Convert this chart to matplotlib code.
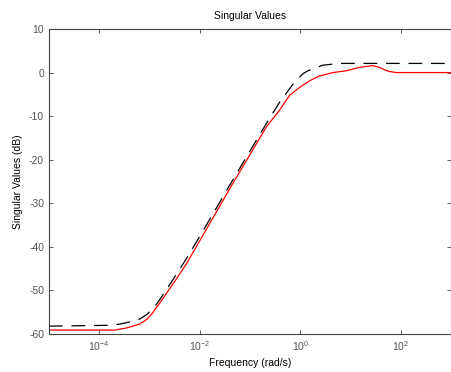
import numpy as np
import matplotlib.pyplot as plt

plt.rcParams['font.family'] = ['Liberation Sans', 'DejaVu Sans']
plt.rcParams['axes.unicode_minus'] = False

# Valores (log10 de la frecuencia, dB)
logf_rojo = [-5, -3.7, -3.45, -3.19, -3.05, -2.955, -2.79, -2.49, -2.26, -2.0, -1.34,
             -0.67, -0.41, -0.21, 0.0, 0.2, 0.38, 0.65, 0.91, 1.18, 1.44, 1.57,
             1.75, 1.91, 3]
db_rojo = [-59.1, -59.1, -58.6, -57.7, -56.6, -55.4, -52.8, -47.8, -43.8, -38.6, -25.4,
           -12.4, -8.6, -5.2, -3.3, -1.8, -0.8, 0.0, 0.4, 1.2, 1.6, 1.2,
           0.3, 0.0, 0.0]

logf_negro = [-5, -3.78, -3.58, -3.42, -3.2, -3.05, -2.9, -2.79, -2.56, -2.26, -2.0,
              -1.34, -0.67, -0.41, -0.16, 0.05, 0.15, 0.45, 0.78, 3]
db_negro = [-58.2, -58.0, -57.7, -57.3, -56.6, -55.5, -53.8, -52.0, -48.0, -42.6, -37.6,
            -24.6, -11.6, -6.8, -2.9, -0.3, 0.4, 1.7, 2.1, 2.1]

x_ticks = [1e-4, 1e-2, 1e0, 1e2]
y_ticks = np.arange(-60, 11, 10)

fig = plt.figure(figsize=(4.51, 3.72), dpi=100)
ax = fig.add_axes([49 / 451, 38 / 372, 402 / 451, 305 / 372])

ax.semilogx(10.0 ** np.array(logf_negro), db_negro, color='black', lw=0.9,
            dashes=(11, 7))
ax.semilogx(10.0 ** np.array(logf_rojo), db_rojo, color='red', lw=0.9)

ax.set_xlim(1e-5, 1e3)
ax.set_ylim(-60, 10)
ax.set_xticks(x_ticks)
ax.xaxis.set_minor_locator(plt.NullLocator())
ax.set_yticks(y_ticks)

gris = '#444444'
for s in ax.spines.values():
    s.set_color(gris)
    s.set_linewidth(0.8)
ax.tick_params(direction='in', top=True, right=True, length=3, width=0.6,
               colors=gris, labelsize=7.5, labelcolor='#555555')

ax.set_title('Singular Values', fontsize=7.5, pad=7)
ax.set_xlabel('Frequency (rad/s)', fontsize=7.5, labelpad=4)
ax.set_ylabel('Singular Values (dB)', fontsize=7.5, labelpad=4)

fig.savefig('out.png', dpi=100)
